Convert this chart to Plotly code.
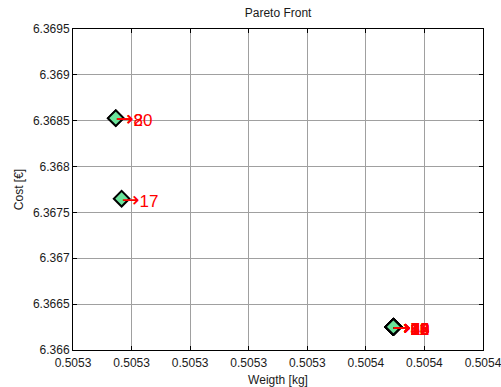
import plotly.graph_objects as go

# Pareto front solutions: weight [kg], cost [€] and solution index
weight = [0.5053073, 0.5053073, 0.5053083] + [0.5053547] * 17
cost = [6.368528, 6.368528, 6.367650] + [6.366252] * 17
labels = ["8", "20", "17", "1", "2", "3", "4", "5", "6", "7", "9", "10",
          "11", "12", "13", "14", "15", "16", "18", "19"]

x_ticks = [0.50530, 0.50531, 0.50532, 0.50533, 0.50534, 0.50535, 0.50536, 0.50537]
x_ticktext = ["0.5053", "0.5053", "0.5053", "0.5053", "0.5053", "0.5054", "0.5054", "0.5054"]
y_ticks = [6.366, 6.3665, 6.367, 6.3675, 6.368, 6.3685, 6.369, 6.3695]
y_ticktext = ["6.366", "6.3665", "6.367", "6.3675", "6.368", "6.3685", "6.369", "6.3695"]

font = "Liberation Sans, Arial, sans-serif"
ink = "#1a1a1a"

fig = go.Figure()
fig.add_trace(go.Scatter(
    x=weight, y=cost, mode="markers",
    marker=dict(symbol="diamond", size=12, color="#6be39b",
                line=dict(color="black", width=2)),
    hoverinfo="skip", showlegend=False,
))

arrow = '<span style="font-family:DejaVu Sans;font-size:21px">→</span>'
for xv, yv, lab in zip(weight, cost, labels):
    fig.add_annotation(x=xv, y=yv, text=arrow + lab, showarrow=False,
                       xanchor="left", yanchor="middle", xshift=-2, yshift=-1,
                       font=dict(family=font, size=17, color="#ff0000"))

axis_common = dict(
    showline=True, linecolor="black", linewidth=1, mirror="ticks",
    ticks="inside", ticklen=4, tickcolor="black",
    showgrid=True, gridcolor="#a0a0a0", gridwidth=1,
    zeroline=False, automargin=False, ticklabeloverflow="allow",
    tickfont=dict(family=font, size=12, color=ink),
)

fig.update_xaxes(range=[x_ticks[0], x_ticks[-1]], tickvals=x_ticks,
                 ticktext=x_ticktext, ticklabelstandoff=2,
                 title=dict(text="Weigth [kg]", standoff=6,
                            font=dict(family=font, size=12, color=ink)),
                 **axis_common)
fig.update_yaxes(range=[y_ticks[0], y_ticks[-1]], tickvals=y_ticks,
                 ticktext=y_ticktext,
                 title=dict(text="Cost [€]", standoff=6,
                            font=dict(family=font, size=12, color=ink)),
                 **axis_common)

fig.update_layout(
    width=501, height=387,
    margin=dict(l=73, r=18, t=29, b=37, autoexpand=False),
    paper_bgcolor="white", plot_bgcolor="white",
    title=dict(text="Pareto Front", x=0.555, xanchor="center", y=0.968,
               yanchor="middle", automargin=False,
               font=dict(family=font, size=12, color=ink)),
)

fig.write_html("out.html")
